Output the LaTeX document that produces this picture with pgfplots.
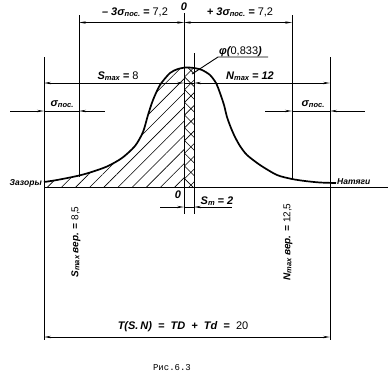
\documentclass[border=0pt]{standalone}
\usepackage{pgfplots}
\pgfplotsset{compat=1.18}
\usepackage{fontspec}
\setmainfont{Liberation Sans}
\newfontfamily\monofont{Liberation Mono}
\usetikzlibrary{arrows.meta,patterns.meta}
\newcommand\lo[1]{\raisebox{-0.8pt}{\fontsize{7.5}{7.5}\selectfont #1}}
\newcommand\up[1]{{\upshape\mdseries #1}}
\begin{document}
\begin{tikzpicture}[>={Stealth[length=7pt,width=2.4pt]}]
\begin{axis}[
  scale only axis, width=391pt, height=376pt,
  xmin=0, xmax=391, ymin=0, ymax=376, y dir=reverse,
  hide axis, clip=false,
  cycle list={{black,solid,mark=none}},
  every axis plot/.append style={line width=0.9pt},
  nodes={font=\fontsize{11}{13}\selectfont\bfseries\itshape, inner sep=1pt},
]
% hatched area (clearances)
\addplot[draw=none, pattern={Lines[angle=45,distance=10pt,line width=0.6pt]}] coordinates {
 (44,187) (44,182) (57,180) (77,176) (90,172) (107,167) (123,158) (137,145) (143,132) (148,115) (153,100) (160,85) (170,73) (178,69) (184,67.8) (184,187)};
% cross-hatched area
\addplot[draw=none, pattern={Hatch[angle=45,distance=9pt,line width=0.6pt]}] coordinates {
 (184,187) (184,67.8) (189,67.5) (194,68) (194,187)};
% distribution curve
\addplot[line width=1.7pt, smooth, tension=0.45] coordinates {
 (44,182) (57,180) (77,176) (90,172.5) (107,166.5) (122,158) (135,146) (143,132) (148,115) (153,100) (160,85) (170,73) (178,69) (186,67.5) (194,68) (202,70) (210,75) (216,83) (220,93) (224,105) (227,117) (231,128) (235,137) (240,146) (247,155) (260,165) (277,175) (292,179) (305,181) (320,182.5) (336,183)};
% baseline
\addplot coordinates {(44,187) (388,187)};
% vertical lines
\addplot coordinates {(44,57) (44,340)};
\addplot coordinates {(79,15) (79,177)};
\addplot coordinates {(184,13) (184,214)};
\addplot coordinates {(194,53) (194,214)};
\addplot coordinates {(292,15) (292,180)};
\addplot coordinates {(330,57) (330,340)};
% top dimension
\addplot[<->] coordinates {(79,22.5) (184,22.5)};
\addplot[<->] coordinates {(184,22.5) (292,22.5)};
% Smax / Nmax
\addplot[<->] coordinates {(44,83) (184,83)};
\addplot coordinates {(184,83) (194,83)};
\addplot[<->] coordinates {(194,83) (330,83)};
% sigma left
\addplot[->] coordinates {(10,111) (44,111)};
\addplot coordinates {(44,111) (79,111)};
\addplot[<-] coordinates {(79,111) (105,111)};
% sigma right
\addplot[->] coordinates {(265,111) (292,111)};
\addplot coordinates {(292,111) (330,111)};
\addplot[<-] coordinates {(330,111) (365,111)};
% Sm
\addplot[->] coordinates {(160,207) (184,207)};
\addplot coordinates {(184,207) (194,207)};
\addplot[<-] coordinates {(194,207) (232,207)};
% bottom dimension
\addplot[<->] coordinates {(44,337) (330,337)};
% leader for phi
\addplot coordinates {(192,74) (218,57) (268,57)};
% texts
\node at (axis cs:184,7) {0};
\node at (axis cs:135,12.5) {– 3σ\lo{пос.} = \up{7,2}};
\node at (axis cs:240,12.5) {+ 3σ\lo{пос.} = \up{7,2}};
\node[anchor=south west] at (axis cs:218,58) {φ(\up{0,833})};
\node at (axis cs:118,76) {S\lo{max} = \up{8}};
\node at (axis cs:250,76.5) {N\lo{max} = 12};
\node at (axis cs:62,104) {σ\lo{пос.}};
\node at (axis cs:313,104) {σ\lo{пос.}};
\node[anchor=east, font=\fontsize{8.5}{10}\selectfont\bfseries\itshape] at (axis cs:43,183) {Зазоры};
\node[anchor=west, font=\fontsize{8.5}{10}\selectfont\bfseries\itshape] at (axis cs:336,182) {Натяги};
\node at (axis cs:178,195) {0};
\node at (axis cs:217,201) {S\lo{m} = 2};
\node[rotate=90, font=\fontsize{10}{12}\selectfont\bfseries\itshape] at (axis cs:76,242) {S\lo{max} вер. = \up{8,5}};
\node[rotate=90, font=\fontsize{10}{12}\selectfont\bfseries\itshape] at (axis cs:288,242) {N\lo{max} вер. = \up{12,5}};
\node at (axis cs:183,327) {T(S.\,N) \;=\; TD \;+\; Td \;=\; \up{20}};
\node[font=\fontsize{9}{11}\selectfont\monofont] at (axis cs:172,368) {Рис.6.3};
\end{axis}
\pgfresetboundingbox
\path[use as bounding box] (current axis.south west) rectangle (current axis.north east);
\end{tikzpicture}
\end{document}
